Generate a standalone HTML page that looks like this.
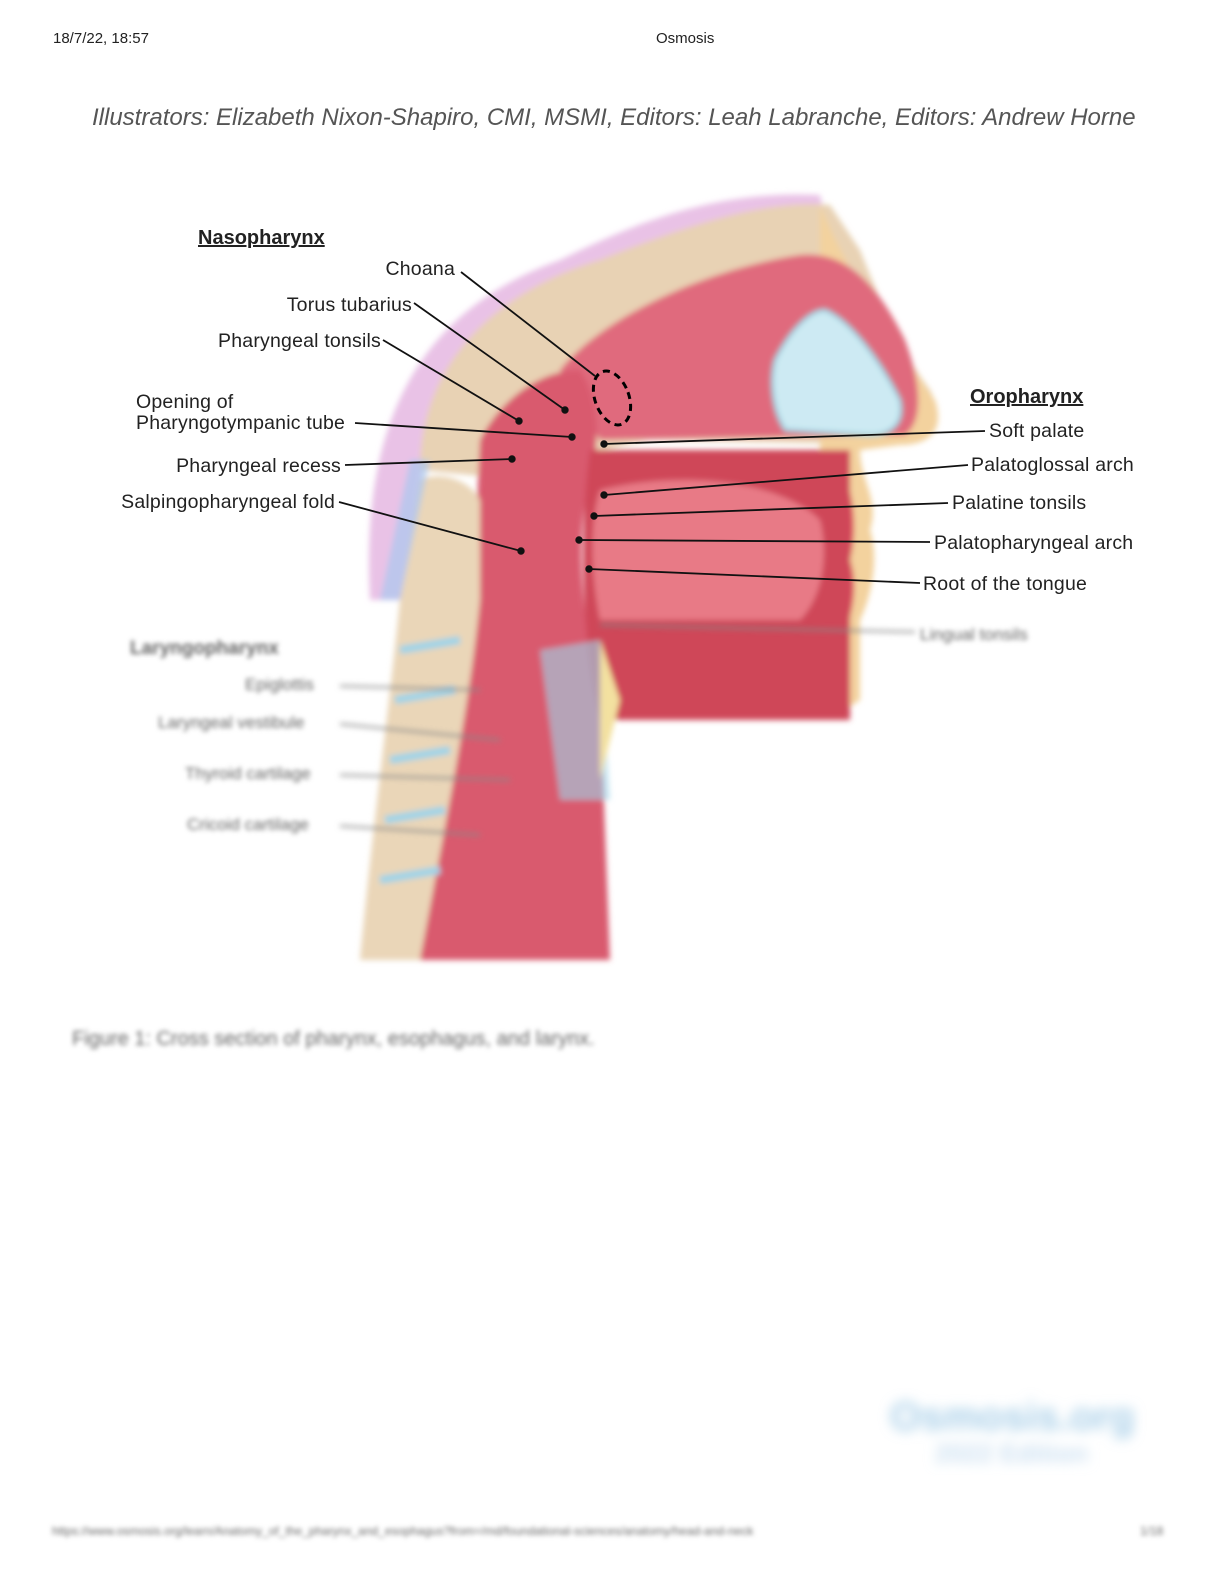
<!DOCTYPE html>
<html><head><meta charset="utf-8"><style>
html,body{margin:0;padding:0;background:#fff;}
body{width:1224px;height:1584px;position:relative;overflow:hidden;font-family:"Liberation Sans",sans-serif;}
.t{position:absolute;white-space:nowrap;}
.l{font-size:19.5px;color:#222;letter-spacing:0.2px}
.r{text-align:right}
.blur{filter:blur(2.5px);color:#666;}
</style></head><body>
<div class="t" style="left:53px;top:30px;font-size:15px;color:#222">18/7/22, 18:57</div>
<div class="t" style="left:656px;top:30px;font-size:15px;color:#222">Osmosis</div>
<div class="t" style="left:92px;top:104px;font-size:24px;font-style:italic;color:#555">Illustrators: Elizabeth Nixon-Shapiro, CMI, MSMI, Editors: Leah Labranche, Editors: Andrew Horne</div>

<svg width="1224" height="1584" style="position:absolute;left:0;top:0" xmlns="http://www.w3.org/2000/svg">
<defs><filter id="b"><feGaussianBlur stdDeviation="3"/></filter><filter id="b2"><feGaussianBlur stdDeviation="6"/></filter></defs>
<g filter="url(#b)">
<path d="M370,600 C360,420 420,310 560,260 C640,220 720,190 820,195 L830,240 C700,240 560,290 470,360 C420,420 410,520 410,600 Z" fill="#e9c2e6"/>
<path d="M420,470 C420,360 500,290 600,260 C700,220 770,200 830,205 L860,250 C880,300 900,350 930,390 C945,420 930,440 900,445 L650,440 C600,450 560,460 520,480 Z" fill="#e8d2b4"/>
<path d="M820,205 C850,280 900,350 935,400 C945,430 930,445 900,445 L860,450 C860,480 880,500 870,530 C880,560 870,600 860,620 L860,700 L830,720 L620,720 L600,600 L820,450 Z" fill="#f3d29e"/>
<path d="M560,370 C600,320 700,270 800,255 C850,250 880,290 905,340 C920,380 925,420 905,435 L600,440 Z" fill="#e06a7d"/>
<path d="M775,360 C790,330 810,310 825,310 C850,320 880,360 900,400 C905,425 890,435 870,435 L785,430 C772,410 770,380 775,360 Z" fill="#cdeaf3" stroke="#8ccadb" stroke-width="3"/>
<path d="M830,450 C850,470 860,520 850,560 C860,590 850,620 840,650 L820,650 L820,450 Z" fill="#d9485e"/>
<path d="M480,440 C500,400 540,370 580,370 C600,400 600,440 590,480 C575,540 580,600 600,700 L610,960 L400,960 C430,860 460,760 470,640 C475,560 478,480 480,440 Z" fill="#d95a6e"/>
<path d="M590,450 L850,450 L850,720 L600,720 C580,640 580,520 590,450 Z" fill="#cf4658"/>
<path d="M600,490 C680,470 780,480 820,520 C830,560 820,600 800,620 L600,620 C590,570 590,520 600,490 Z" fill="#e87a86"/>
<path d="M420,480 C440,470 470,480 480,500 L480,600 C470,700 450,800 420,960 L360,960 C370,850 390,700 400,600 Z" fill="#ead6b8"/>
<path d="M410,460 L430,460 L400,600 L380,600 Z" fill="#a9c8ee" opacity="0.7"/>
<path d="M400,650 L460,640 M395,700 L455,690 M390,760 L450,750 M385,820 L445,810 M380,880 L440,870" stroke="#9ed3e8" stroke-width="8"/>
<path d="M540,650 L600,640 L610,800 L560,800 Z" fill="#9ed3e8" opacity="0.6"/>
<path d="M600,640 L620,700 L600,780 Z" fill="#f3e1a0"/>
</g>
<ellipse cx="612" cy="398" rx="17" ry="28" transform="rotate(-20 612 398)" fill="none" stroke="#000" stroke-width="3" stroke-dasharray="7,5"/>
<g stroke="#111" stroke-width="1.8" fill="#111">
<line x1="461" y1="272" x2="595" y2="376"/>
<line x1="414" y1="303" x2="565" y2="410"/><circle cx="565" cy="410" r="2.8"/>
<line x1="383" y1="340" x2="519" y2="421"/><circle cx="519" cy="421" r="2.8"/>
<line x1="355" y1="423" x2="572" y2="437"/><circle cx="572" cy="437" r="2.8"/>
<line x1="345" y1="465" x2="512" y2="459"/><circle cx="512" cy="459" r="2.8"/>
<line x1="339" y1="502" x2="521" y2="551"/><circle cx="521" cy="551" r="2.8"/>
<line x1="985" y1="431" x2="604" y2="444"/><circle cx="604" cy="444" r="2.8"/>
<line x1="968" y1="465" x2="604" y2="495"/><circle cx="604" cy="495" r="2.8"/>
<line x1="948" y1="503" x2="594" y2="516"/><circle cx="594" cy="516" r="2.8"/>
<line x1="930" y1="542" x2="579" y2="540"/><circle cx="579" cy="540" r="2.8"/>
<line x1="920" y1="583" x2="589" y2="569"/><circle cx="589" cy="569" r="2.8"/>
</g>
<g stroke="#888" stroke-width="2" filter="url(#b)">
<line x1="340" y1="686" x2="480" y2="690"/><line x1="340" y1="724" x2="500" y2="740"/>
<line x1="340" y1="775" x2="510" y2="780"/><line x1="340" y1="826" x2="480" y2="835"/>
<line x1="600" y1="625" x2="915" y2="632"/>
</g>
<g filter="url(#b2)">
<text x="890" y="1430" font-size="40" font-weight="bold" fill="#a8cfe8" font-family="Liberation Sans">Osmosis.org</text>
<text x="935" y="1462" font-size="26" font-weight="bold" fill="#c8def0" font-family="Liberation Sans">2022 Edition</text>
</g>
</svg>

<div class="t" style="left:198px;top:227px;font-size:20px;font-weight:bold;text-decoration:underline;color:#222">Nasopharynx</div>
<div class="t l r" style="right:769px;top:258px">Choana</div>
<div class="t l r" style="right:812px;top:294px">Torus tubarius</div>
<div class="t l r" style="right:843px;top:330px">Pharyngeal tonsils</div>
<div class="t l" style="left:136px;top:392px;line-height:21px">Opening of<br>Pharyngotympanic tube</div>
<div class="t l r" style="right:883px;top:455px">Pharyngeal recess</div>
<div class="t l r" style="right:889px;top:491px">Salpingopharyngeal fold</div>
<div class="t" style="left:970px;top:386px;font-size:20px;font-weight:bold;text-decoration:underline;color:#222">Oropharynx</div>
<div class="t l" style="left:989px;top:420px">Soft palate</div>
<div class="t l" style="left:971px;top:454px">Palatoglossal arch</div>
<div class="t l" style="left:952px;top:492px">Palatine tonsils</div>
<div class="t l" style="left:934px;top:532px">Palatopharyngeal arch</div>
<div class="t l" style="left:923px;top:573px">Root of the tongue</div>

<div class="t blur" style="left:130px;top:638px;font-size:19px;font-weight:bold">Laryngopharynx</div>
<div class="t blur" style="left:245px;top:675px;font-size:17px">Epiglottis</div>
<div class="t blur" style="left:158px;top:713px;font-size:17px">Laryngeal vestibule</div>
<div class="t blur" style="left:185px;top:764px;font-size:17px">Thyroid cartilage</div>
<div class="t blur" style="left:187px;top:815px;font-size:17px">Cricoid cartilage</div>
<div class="t blur" style="left:920px;top:625px;font-size:17px">Lingual tonsils</div>
<div class="t blur" style="left:72px;top:1028px;font-size:20px">Figure 1: Cross section of pharynx, esophagus, and larynx.</div>
<div class="t blur" style="left:52px;top:1524px;font-size:12px">https://www.osmosis.org/learn/Anatomy_of_the_pharynx_and_esophagus?from=/md/foundational-sciences/anatomy/head-and-neck</div>
<div class="t blur" style="left:1140px;top:1524px;font-size:12px">1/18</div>
</body></html>
